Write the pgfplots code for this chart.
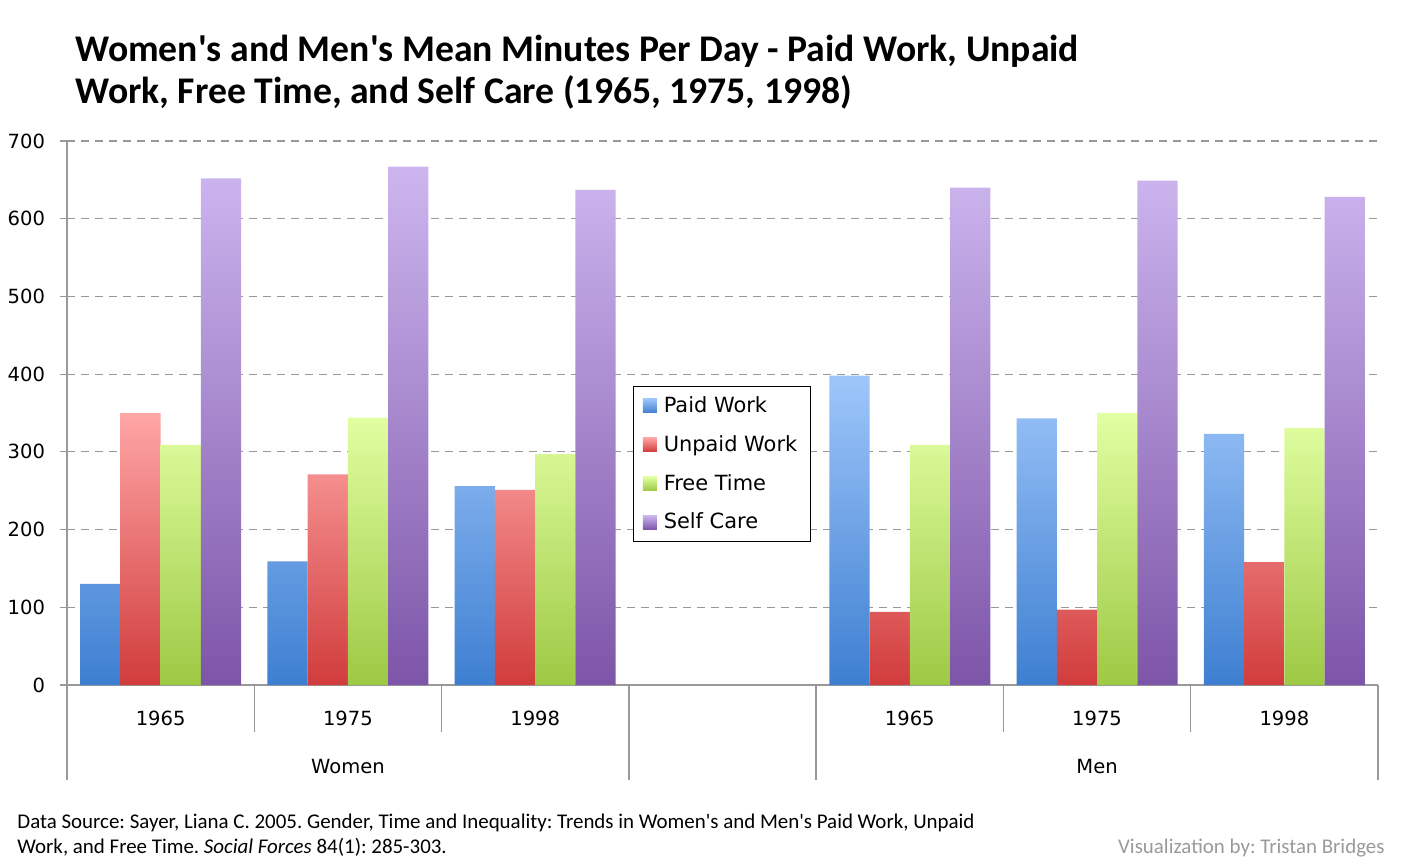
\documentclass[border=0pt]{standalone}
\usepackage{fontspec}
\setmainfont{Carlito}
\newfontfamily\lgfont{DejaVu Sans}
\usepackage{pgfplots}
\usepackage{pgfplotstable}
\pgfplotsset{compat=1.18}
\frenchspacing

\definecolor{paidT}{HTML}{9EC6FA}
\definecolor{paidB}{HTML}{3E7FD1}
\definecolor{unpaidT}{HTML}{FFA6A6}
\definecolor{unpaidB}{HTML}{D13C3C}
\definecolor{freeT}{HTML}{E2FFA2}
\definecolor{freeB}{HTML}{9DC944}
\definecolor{selfT}{HTML}{CDB6EF}
\definecolor{selfB}{HTML}{7D55A8}
\definecolor{axisgray}{HTML}{999999}
\definecolor{creditgray}{HTML}{9A9A9A}

\newcommand{\ap}{\textquotesingle}

% one table for each series; x = slot (Women 0-2, gap 3, Men 4-6)
\pgfplotstableread{
x y
0 130
1 159
2 256
4 398
5 343
6 323
}\paid
\pgfplotstableread{
x y
0 350
1 271
2 251
4 94
5 97
6 158
}\unpaid
\pgfplotstableread{
x y
0 309
1 344
2 297
4 309
5 350
6 331
}\freetime
\pgfplotstableread{
x y
0 652
1 667
2 637
4 640
5 649
6 628
}\selfcare

\begin{document}
\begin{tikzpicture}
% 1 px of the reference = 0.5bp
\useasboundingbox (0,0) rectangle (700.5bp,-433.5bp);

\node[anchor=base west,inner sep=0,font=\bfseries\fontsize{18.9}{23}\selectfont]
  at (37.5bp,-30.5bp) {Women\ap s and Men\ap s Mean Minutes Per Day - Paid Work, Unpaid};
\node[anchor=base west,inner sep=0,font=\bfseries\fontsize{18.9}{23}\selectfont]
  at (37.5bp,-51.5bp) {Work, Free Time, and Self Care (1965, 1975, 1998)};

\begin{axis}[
    at={(33.5bp,-342.5bp)}, anchor=south west,
    scale only axis, width=655.5bp, height=272bp,
    xmin=-0.5, xmax=6.5, ymin=0, ymax=700,
    ybar=0pt, bar width=0.215,
    clip=false,
    axis lines=left,
    axis line style={-,draw=axisgray,line width=0.75bp},
    xtick={0,1,2,4,5,6},
    xticklabels={1965,1975,1998,1965,1975,1998},
    xtick style={draw=none},
    ytick={0,100,...,700},
    ytick align=outside,
    ytick style={draw=axisgray,line width=0.6bp},
    major tick length=3.5bp,
    ymajorgrids,
    grid style={draw=axisgray,line width=0.6bp,dash pattern=on 4bp off 3bp},
    /pgf/number format/assume math mode=true,
    tick label style={font=\lgfont\fontsize{9.8}{12}\selectfont,text=black},
    xticklabel style={anchor=base,yshift=-18.5bp},
    yticklabel style={anchor=east,xshift=-4bp},
    legend style={at={(0.4996,0.406)},anchor=center,draw=black,line width=0.5bp,
      font=\lgfont\fontsize{10.5}{12}\selectfont,row sep=6bp,
      inner xsep=4.5bp,inner ysep=3bp,
      /tikz/every odd column/.append style={column sep=1.5bp}},
    legend cell align=left,
    legend image code/.code={\path[#1,draw=none] (0bp,-3.5bp) rectangle (7bp,3.5bp);},
]
\addplot[draw=none,top color=paidT,bottom color=paidB] table[x=x,y=y] {\paid};
\addlegendentry{Paid Work}
\addplot[draw=none,top color=unpaidT,bottom color=unpaidB] table[x=x,y=y] {\unpaid};
\addlegendentry{Unpaid Work}
\addplot[draw=none,top color=freeT,bottom color=freeB] table[x=x,y=y] {\freetime};
\addlegendentry{Free Time}
\addplot[draw=none,top color=selfT,bottom color=selfB] table[x=x,y=y] {\selfcare};
\addlegendentry{Self Care}

% category separators below the axis
\pgfplotsinvokeforeach{0.5,1.5,4.5,5.5}{
  \draw[axisgray,line width=0.75bp] (axis cs:#1,0) -- (axis cs:#1,-60.5);
}
\pgfplotsinvokeforeach{-0.5,2.5,3.5,6.5}{
  \draw[axisgray,line width=0.75bp] (axis cs:#1,0) -- (axis cs:#1,-122.3);
}
\node[anchor=base,font=\lgfont\fontsize{9.8}{12}\selectfont] at (axis cs:1,-114.5) {Women};
\node[anchor=base,font=\lgfont\fontsize{9.8}{12}\selectfont] at (axis cs:5,-114.5) {Men};
\end{axis}

\node[anchor=base west,inner sep=0,font=\fontsize{10.5}{12}\selectfont]
  at (8.5bp,-414bp) {Data Source: Sayer, Liana C. 2005. Gender, Time and Inequality: Trends in Women\ap s and Men\ap s Paid Work, Unpaid};
\node[anchor=base west,inner sep=0,font=\fontsize{10.5}{12}\selectfont]
  at (8.5bp,-426.5bp) {Work, and Free Time. \textit{Social Forces} 84(1): 285-303.};
\node[anchor=base east,inner sep=0,text=creditgray,font=\fontsize{10.5}{12}\selectfont]
  at (692.5bp,-426.5bp) {Visualization by: Tristan Bridges};
\end{tikzpicture}
\end{document}
